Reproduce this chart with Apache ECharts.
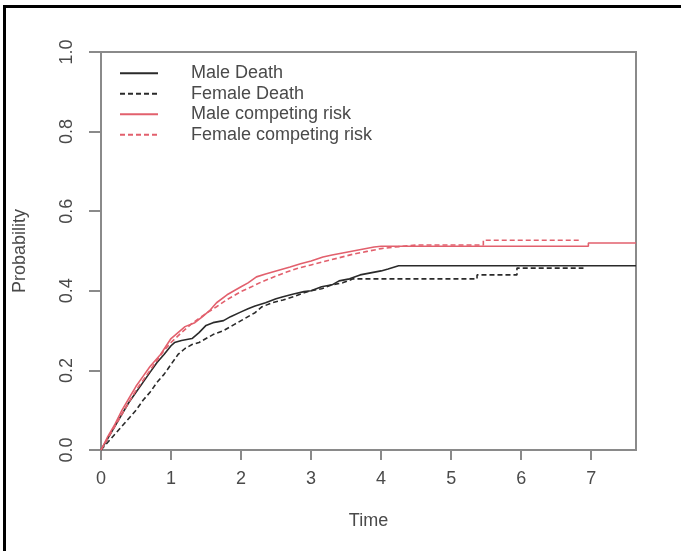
<!DOCTYPE html>
<html>
<head>
<meta charset="utf-8">
<script src="https://cdn.jsdelivr.net/npm/echarts@6/dist/echarts.min.js"></script>
<style>
  html, body { margin: 0; padding: 0; background: #fff; }
  #frame { position: absolute; left: 3px; top: 5px; width: 690px; height: 560px;
           border-left: 3px solid #000; border-top: 3px solid #000; box-sizing: border-box; pointer-events: none; z-index: 2; }
  #chart { position: absolute; left: 0; top: 0; width: 681px; height: 551px; }
</style>
</head>
<body>
<div id="chart"></div>
<div id="frame"></div>
<script>
// ---- data ----
const seriesNames = ['Male Death', 'Female Death', 'Male competing risk', 'Female competing risk'];
const xTicks = [0, 1, 2, 3, 4, 5, 6, 7];
const yTicks = [0, 0.2, 0.4, 0.6, 0.8, 1.0];

const maleDeathT = [0,0.1,0.2,0.3,0.4,0.5,0.6,0.7,0.8,0.9,1.0,1.05,1.15,1.3,1.4,1.5,1.6,1.75,1.85,2.0,2.1,2.2,2.35,2.5,2.6,2.75,2.9,3.0,3.15,3.3,3.4,3.55,3.7,3.85,4.0,4.1,4.25,7.64];
const maleDeathY = [0,0.03,0.06,0.09,0.12,0.145,0.17,0.195,0.22,0.24,0.262,0.27,0.275,0.28,0.295,0.313,0.32,0.325,0.335,0.347,0.355,0.362,0.37,0.38,0.385,0.392,0.398,0.40,0.41,0.415,0.425,0.43,0.44,0.445,0.45,0.455,0.463,0.463];

const femaleDeathT = [0,0.1,0.2,0.3,0.4,0.5,0.6,0.7,0.8,0.9,1.0,1.1,1.2,1.3,1.4,1.5,1.6,1.75,1.9,2.0,2.1,2.2,2.3,2.45,2.6,2.75,2.9,3.0,3.15,3.3,3.45,3.6,5.37,5.37,5.94,5.94,6.89];
const femaleDeathY = [0,0.02,0.04,0.06,0.08,0.10,0.125,0.145,0.17,0.19,0.215,0.24,0.255,0.265,0.27,0.28,0.29,0.30,0.315,0.325,0.335,0.345,0.36,0.37,0.377,0.385,0.395,0.40,0.405,0.415,0.42,0.43,0.43,0.44,0.44,0.457,0.457];

const maleCompT = [0,0.1,0.2,0.3,0.4,0.5,0.6,0.7,0.85,1.0,1.1,1.2,1.34,1.45,1.55,1.65,1.8,1.9,2.0,2.1,2.22,2.35,2.5,2.6,2.7,2.85,3.0,3.17,3.3,3.45,3.6,3.75,3.9,4.0,6.96,6.96,7.64];
const maleCompY = [0,0.035,0.065,0.1,0.13,0.16,0.185,0.21,0.24,0.28,0.295,0.31,0.32,0.335,0.35,0.37,0.39,0.40,0.41,0.42,0.435,0.442,0.45,0.455,0.46,0.468,0.475,0.485,0.49,0.495,0.50,0.505,0.51,0.512,0.512,0.52,0.52];

const femaleCompT = [0,0.1,0.2,0.3,0.4,0.5,0.6,0.7,0.8,0.9,1.0,1.15,1.3,1.5,1.65,1.8,2.0,2.15,2.3,2.5,2.65,2.8,3.0,3.2,3.4,3.6,3.8,4.0,4.2,4.5,5.46,5.46,6.84];
const femaleCompY = [0,0.03,0.06,0.09,0.12,0.15,0.175,0.2,0.225,0.25,0.27,0.295,0.318,0.343,0.36,0.378,0.398,0.41,0.423,0.437,0.447,0.456,0.465,0.474,0.483,0.492,0.499,0.506,0.51,0.515,0.515,0.527,0.527];

const xMax = 7.64;
// ------------------------------------------------

const zip = (t, y) => t.map((v, i) => [v, y[i]]);
const FONT = '"Liberation Sans", Arial, sans-serif';
const TXT = '#4a4a4a';
const BOX = '#8a8a8a';
const BLACK = '#2a2a2a';
const RED = '#e2606d';

function mkSeries(name, t, y, color, dashed) {
  return {
    name: name, type: 'line', symbol: 'none', showSymbol: false, silent: true,
    data: zip(t, y),
    lineStyle: { color: color, width: 1.6, type: dashed ? [5, 3] : 'solid' },
    itemStyle: { color: color },
    animation: false
  };
}

const chart = echarts.init(document.getElementById('chart'), null, { renderer: 'canvas' });
chart.setOption({
  animation: false,
  backgroundColor: '#fff',
  textStyle: { fontFamily: FONT },
  grid: { left: 101, right: 45, top: 52, bottom: 101, show: true, borderColor: BOX, borderWidth: 2, backgroundColor: 'transparent' },
  legend: {
    orient: 'vertical', left: 119, top: 63, padding: 0, itemGap: 0,
    itemWidth: 38, itemHeight: 14,
    itemStyle: { opacity: 0, borderWidth: 0 },
    data: seriesNames,
    textStyle: { fontFamily: FONT, fontSize: 18, color: TXT, lineHeight: 20.5, padding: [0, 0, 0, 28] },
    selectedMode: false
  },
  xAxis: {
    type: 'value', min: 0, max: xMax, interval: 1,
    name: 'Time', nameLocation: 'middle', nameGap: 62,
    nameTextStyle: { fontFamily: FONT, fontSize: 18, color: TXT },
    axisLine: { show: false },
    axisTick: { show: true, length: 10, lineStyle: { color: BOX, width: 2 }, customValues: xTicks },
    axisLabel: { fontFamily: FONT, fontSize: 18, color: TXT, margin: 20, customValues: xTicks, formatter: v => String(v) },
    splitLine: { show: false }
  },
  yAxis: {
    type: 'value', min: 0, max: 1, interval: 0.2,
    name: 'Probability', nameLocation: 'middle', nameGap: 72, nameRotate: 90,
    nameTextStyle: { fontFamily: FONT, fontSize: 18, color: TXT },
    axisLine: { show: false },
    axisTick: { show: true, length: 12, lineStyle: { color: BOX, width: 2 }, customValues: yTicks },
    axisLabel: { fontFamily: FONT, fontSize: 18, color: TXT, margin: 25, rotate: 90, customValues: yTicks, formatter: v => v.toFixed(1) },
    splitLine: { show: false }
  },
  series: [
    mkSeries(seriesNames[0], maleDeathT, maleDeathY, BLACK, false),
    mkSeries(seriesNames[1], femaleDeathT, femaleDeathY, BLACK, true),
    mkSeries(seriesNames[2], maleCompT, maleCompY, RED, false),
    mkSeries(seriesNames[3], femaleCompT, femaleCompY, RED, true)
  ]
});
</script>
</body>
</html>
